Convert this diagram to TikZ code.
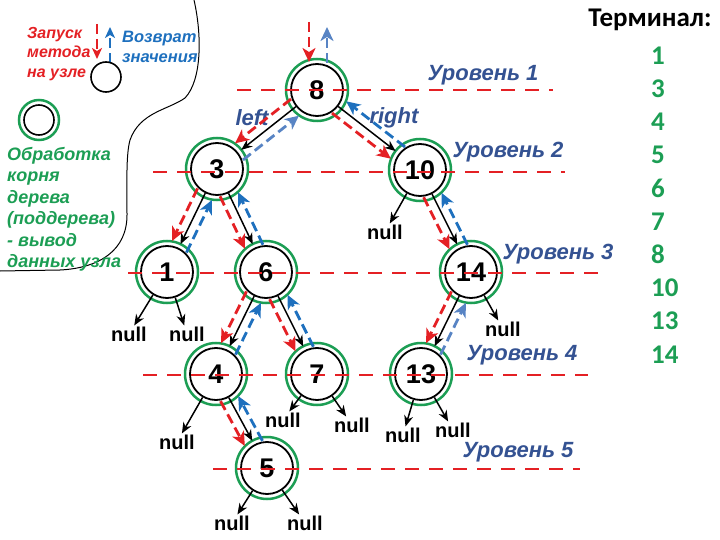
\documentclass[tikz,border=0pt]{standalone}
\usepackage{fontspec}
\setmainfont{Liberation Sans}
\newfontfamily\termfont{Carlito}
\usetikzlibrary{arrows.meta,calc}

\definecolor{walkred}{RGB}{228,32,36}
\definecolor{walkblue}{RGB}{30,112,190}
\definecolor{walksteel}{RGB}{88,132,196}
\definecolor{ringgreen}{RGB}{28,158,84}
\definecolor{levelblue}{RGB}{52,82,146}

\begin{document}
\begin{tikzpicture}[
  x=1pt, y=-1pt,
  tnode/.style={circle, draw=black, line width=1.8pt, minimum size=52pt, inner sep=0pt,
    font=\bfseries\fontsize{27}{27}\selectfont},
  ring/.style={draw=ringgreen, line width=2.5pt},
  nullnode/.style={inner sep=1pt, font=\bfseries\fontsize{20}{20}\selectfont},
  link/.style={line width=1.5pt, -{Stealth[length=11pt,width=9pt]}},
  level/.style={draw=walkred, line width=1.5pt, dash pattern=on 14pt off 10pt},
  levellabel/.style={text=levelblue, font=\bfseries\itshape\fontsize{22}{22}\selectfont},
  godown/.style={color=walkred, line width=2.8pt, dash pattern=on 10pt off 5pt,
    -{Stealth[length=14pt,width=13pt,inset=4pt]}},
  goup/.style={color=walkblue, line width=2.8pt, dash pattern=on 10pt off 5pt,
    -{Stealth[length=14pt,width=13pt,inset=4pt]}},
  goupsteel/.style={goup, color=walksteel},
  termnum/.style={text=ringgreen, inner sep=0pt, anchor=west,
    font=\termfont\bfseries\fontsize{27}{27}\selectfont}
]
\useasboundingbox (0,0) rectangle (720,540);

% ---------- descent / return along one edge ----------
\newcommand{\walkEdge}[3]{% #1 = parent, #2 = child, #3 = return style
  \draw[godown, shorten <=26pt, shorten >=30pt]
    ($(#1)!9pt!-90:(#2)$) -- ($(#2)!9pt!90:(#1)$);
  \draw[#3, shorten <=26pt, shorten >=30pt]
    ($(#2)!9pt!-90:(#1)$) -- ($(#1)!9pt!90:(#2)$);
}

% ---------- legend ----------
\draw[line width=1pt] (194,0) .. controls (202,35) and (202,80) .. (185,98)
  .. controls (168,110) and (140,112) .. (130,140)
  .. controls (126,155) and (127,180) .. (127,215)
  .. controls (127,250) and (100,268) .. (60,270) -- (0,271);

\coordinate (keyDownA) at (97,24);
\coordinate (keyDownB) at (97,59);
\coordinate (keyUpA) at (110,63);
\coordinate (keyUpB) at (110,27);
\draw[godown, line width=2.2pt, -{Stealth[length=11pt,width=10pt,inset=3pt]}] (keyDownA) -- (keyDownB);
\draw[goup, line width=2.2pt, -{Stealth[length=11pt,width=10pt,inset=3pt]}] (keyUpA) -- (keyUpB);
\draw[line width=1.6pt] (106,77) circle[radius=15pt];

\node[anchor=north west, inner sep=0pt, align=left, text=walkred,
  font=\bfseries\itshape\fontsize{16}{19.5}\selectfont] (keyCall) at (27,27)
  {Запуск\\метода\\на узле};
\node[anchor=north west, inner sep=0pt, align=left, text=walkblue,
  font=\bfseries\itshape\fontsize{16.5}{20}\selectfont] (keyBack) at (122,31)
  {Возврат\\значения};

\draw[ring] (39,120) circle[radius=20pt];
\draw[line width=1.6pt] (39,120) circle[radius=15pt];
\node[anchor=north west, inner sep=0pt, align=left, text=ringgreen,
  font=\bfseries\itshape\fontsize{18}{21.4}\selectfont] (keyVisit) at (7,147)
  {Обработка\\корня\\дерева\\(поддерева)\\- вывод\\данных узла};

% ---------- tree ----------
\node[tnode] (n8)  at (317,90)  {8};
\node[tnode] (n3)  at (217,169) {3};
\node[tnode] (n10) at (420,170) {10};
\node[tnode] (n1)  at (167,272) {1};
\node[tnode] (n6)  at (266,272) {6};
\node[tnode] (n14) at (471,272) {14};
\node[tnode] (n4)  at (216,374) {4};
\node[tnode] (n7)  at (317,374) {7};
\node[tnode] (n13) at (421,374) {13};
\node[tnode] (n5)  at (267,468) {5};

\foreach \n in {n8,n3,n10,n1,n6,n14,n4,n7,n13,n5}
  \draw[ring] (\n) circle[radius=31pt];

% null leaves
\node[nullnode] (z10)  at (385,232) {null};
\node[nullnode] (z1a)  at (129,334) {null};
\node[nullnode] (z1b)  at (187,334) {null};
\node[nullnode] (z14)  at (503,329) {null};
\node[nullnode] (z4)   at (177,442) {null};
\node[nullnode] (z7a)  at (283,420) {null};
\node[nullnode] (z7b)  at (352,425) {null};
\node[nullnode] (z13a) at (403,435) {null};
\node[nullnode] (z13b) at (453,430) {null};
\node[nullnode] (z5a)  at (232,523) {null};
\node[nullnode] (z5b)  at (305,523) {null};

% child links
\foreach \a/\b in {n8/n3, n8/n10, n3/n1, n3/n6, n6/n4, n6/n7, n4/n5, n10/n14, n14/n13}
  \draw[link, shorten >=4pt] (\a) -- (\b);
\foreach \a/\b in {n10/z10, n1/z1a, n1/z1b, n14/z14, n4/z4, n7/z7a, n7/z7b,
                   n13/z13a, n13/z13b, n5/z5a, n5/z5b}
  \draw[link] (\a) -- (\b);

% ---------- levels ----------
\draw[level] (237,90)  -- (553,90);
\draw[level] (153,172) -- (565,172);
\draw[level] (128,273) -- (608,273);
\draw[level] (143,375) -- (588,375);
\draw[level] (213,469) -- (580,469);

\node[levellabel] (lev1) at (483,75)  {Уровень 1};
\node[levellabel] (lev2) at (508,152) {Уровень 2};
\node[levellabel] (lev3) at (558,254) {Уровень 3};
\node[levellabel] (lev4) at (522,355) {Уровень 4};
\node[levellabel] (lev5) at (518,452) {Уровень 5};
\node[levellabel] (leftlbl)  at (252,118) {left};
\node[levellabel] (rightlbl) at (394,118) {right};

% ---------- traversal ----------
\coordinate (rootInA)  at (309,22);
\coordinate (rootInB)  at (309,62);
\coordinate (rootOutA) at (327,63);
\coordinate (rootOutB) at (327,27);
\draw[godown] (rootInA) -- (rootInB);
\draw[goupsteel] (rootOutA) -- (rootOutB);

\walkEdge{n8}{n3}{goupsteel}
\walkEdge{n8}{n10}{goup}
\walkEdge{n3}{n1}{goup}
\walkEdge{n3}{n6}{goup}
\walkEdge{n6}{n4}{goup}
\walkEdge{n6}{n7}{goup}
\walkEdge{n4}{n5}{goup}
\walkEdge{n10}{n14}{goup}
\walkEdge{n14}{n13}{goupsteel}

% ---------- terminal ----------
\node[font=\termfont\bfseries\fontsize{27}{27}\selectfont] (termhead) at (650,20) {Терминал:};
\foreach \v [count=\i from 0] in {1,3,4,5,6,7,8,10,13,14}
  \node[termnum] (t\i) at (651,55.5+33.2*\i) {\v};
\end{tikzpicture}
\end{document}
